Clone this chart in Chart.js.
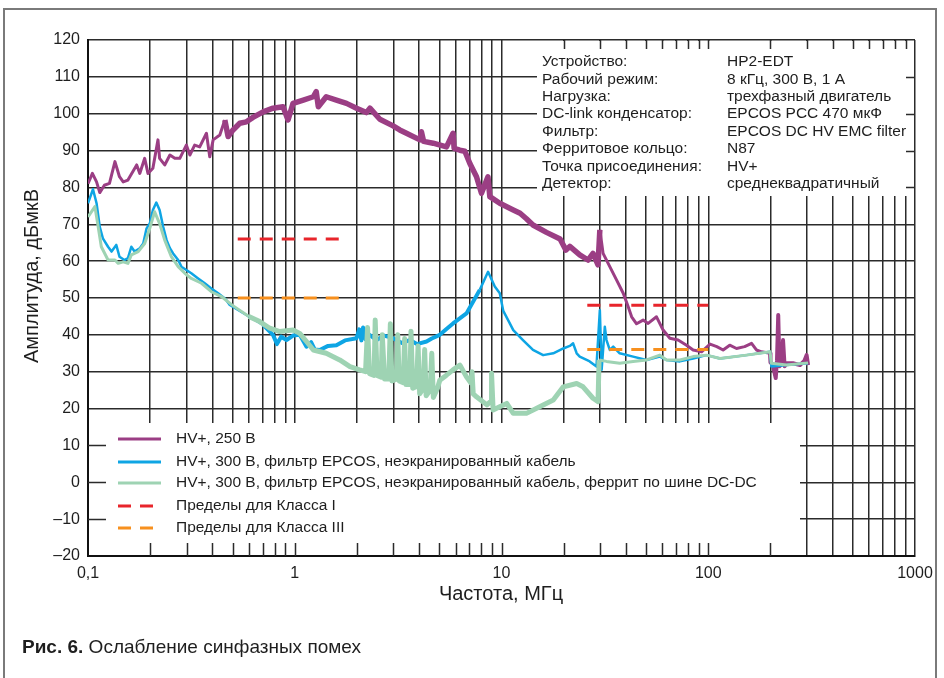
<!DOCTYPE html>
<html>
<head>
<meta charset="utf-8">
<script src="https://cdn.jsdelivr.net/npm/chart.js@4.4.0/dist/chart.umd.min.js"></script>
<style>
  body { margin: 0; background: #fff; }
  #wrap { width: 944px; height: 678px; }
</style>
</head>
<body>
<div id="wrap"><canvas id="emc" width="944" height="678"></canvas></div>
<script>
// HV+, 250 В
const purpleFreq = [0.1, 0.105, 0.11, 0.114, 0.12, 0.127, 0.135, 0.142, 0.148, 0.156, 0.172, 0.178, 0.188, 0.195, 0.206, 0.218, 0.222, 0.235, 0.249, 0.263, 0.278, 0.299, 0.311, 0.328, 0.347, 0.374, 0.388, 0.403, 0.434, 0.459, 0.476, 0.503, 0.542, 0.584, 0.628, 0.703, 0.785, 0.878, 0.928, 0.981, 1.1, 1.23, 1.27, 1.3, 1.42, 1.59, 1.78, 1.99, 2.22, 2.31, 2.58, 2.99, 3.22, 3.47, 4.03, 4.1, 4.2, 4.67, 5.42, 5.83, 5.9, 6.29, 6.65, 7.03, 7.57, 8.0, 8.6, 8.78, 9.81, 11.4, 12.3, 13.2, 14.2, 16.5, 19.2, 20.5, 21.4, 23.9, 26.2, 27.7, 29.3, 29.9, 31.0, 33.4, 36.0, 38.8, 41.0, 42.6, 45.0, 48.4, 51.2, 56.2, 60.5, 65.2, 71.5, 78.5, 84.5, 92.8, 102, 110, 118, 127, 137, 150, 162, 171, 181, 199, 200, 205, 212, 215, 218, 221, 226, 230, 234, 240, 257, 278, 292, 299, 304];
const purpleLevel = [81, 83.8, 81.5, 78.6, 80.6, 81.1, 87, 82.9, 81.5, 82, 86.1, 83.8, 87.9, 83.8, 85.2, 92.9, 87.9, 86.1, 88.8, 87.9, 87.9, 91.5, 88.8, 91.5, 91, 94.7, 88.3, 92.9, 94.2, 98.3, 93.8, 95.6, 97.4, 97.8, 99, 100.5, 101.5, 101.9, 98.3, 102.8, 103.7, 104.6, 106, 101.9, 104.6, 103.7, 102.8, 101.5, 100.3, 101.5, 98.5, 96.7, 95.6, 94.7, 92.9, 95.1, 92.5, 92, 91, 94.7, 90.6, 90.1, 89.8, 86.5, 82.9, 78.4, 82.9, 77.5, 75.7, 73.9, 73, 71.5, 69.8, 67.8, 66, 63, 64, 61.7, 60.3, 62.1, 59, 68.5, 62.1, 58.5, 54.9, 51.3, 47.6, 44.9, 43, 44, 43.1, 44.9, 41.3, 39.1, 38.6, 37.2, 35.9, 35.4, 37.5, 36.8, 35.9, 37.2, 36.3, 36.8, 37.7, 35.9, 35.4, 35, 32.5, 32, 28.3, 33, 45.4, 31.5, 32, 38.6, 31.5, 32.3, 32.3, 31.8, 33, 34.5, 31.8];

// HV+, 300 В, фильтр EPCOS
const blueFreq = [0.1, 0.1057, 0.11, 0.114, 0.118, 0.125, 0.13, 0.137, 0.142, 0.15, 0.156, 0.162, 0.168, 0.178, 0.185, 0.192, 0.199, 0.206, 0.214, 0.222, 0.231, 0.24, 0.249, 0.258, 0.273, 0.283, 0.299, 0.316, 0.341, 0.367, 0.395, 0.426, 0.459, 0.485, 0.584, 0.703, 0.785, 0.82, 0.86, 0.912, 0.981, 1.057, 1.14, 1.2, 1.25, 1.32, 1.45, 1.59, 1.75, 1.99, 2.05, 2.1, 2.14, 2.2, 2.3, 2.49, 2.7, 2.99, 3.3, 3.6, 3.9, 4.34, 4.6, 5.03, 5.4, 5.83, 6.77, 7.85, 8.61, 9.28, 9.81, 10.2, 11.0, 11.4, 12.7, 14.2, 15.9, 17.8, 19.9, 21.4, 22.2, 23.1, 23.9, 25.8, 26.7, 28.8, 29.9, 30.5, 31.6, 32.2, 33.4, 34.7, 37.3, 43.3, 50.3, 58.3, 62.8, 72.9, 84.5, 98.1, 114, 153, 199, 202, 239, 304];
const blueLevel = [75.7, 79.5, 75.7, 69.3, 66.2, 63.9, 62.6, 64.4, 61.2, 60.3, 60.8, 63.9, 62.6, 63.5, 64.8, 68.9, 70.2, 73.9, 75.9, 73.9, 69.3, 65.7, 63.5, 62.1, 60.3, 58.5, 57.6, 56.7, 55.3, 54, 52.6, 51.3, 49.9, 48.1, 45.4, 42.7, 40, 37.5, 39.5, 38.6, 39.8, 40, 36.8, 38, 36, 35.9, 37, 37.2, 38.5, 39.1, 41.5, 38.5, 42, 38.8, 40, 38.6, 39.8, 39.1, 37.8, 38.6, 37.5, 38.2, 39, 40, 41.5, 43.1, 45.8, 52.2, 57.1, 53.1, 51.3, 46.5, 43, 41.3, 38.6, 35.9, 34.5, 35, 36.3, 37, 37.7, 35, 34.1, 33.2, 32.8, 31.4, 46.7, 30.5, 42.2, 38.6, 35.9, 36.8, 35, 34.1, 33.2, 34.1, 33.2, 32.8, 33.6, 34.5, 33.6, 34.5, 35.4, 31.4, 31.8, 32.3];

// HV+, 300 В, фильтр EPCOS, феррит по шине DC-DC
const greenFreq = [0.1, 0.108, 0.112, 0.116, 0.125, 0.135, 0.14, 0.148, 0.156, 0.162, 0.175, 0.188, 0.199, 0.21, 0.222, 0.235, 0.253, 0.273, 0.294, 0.316, 0.354, 0.395, 0.442, 0.5, 0.6, 0.677, 0.757, 0.846, 0.981, 1.057, 1.14, 1.23, 1.42, 1.65, 1.85, 2.06, 2.2, 2.25, 2.3, 2.42, 2.45, 2.5, 2.62, 2.65, 2.72, 2.85, 2.9, 2.95, 3.1, 3.15, 3.2, 3.35, 3.4, 3.45, 3.6, 3.65, 3.72, 3.88, 3.95, 4.02, 4.18, 4.25, 4.32, 4.52, 4.6, 4.68, 4.9, 5.03, 5.4, 5.83, 6.29, 6.77, 7.1, 7.2, 7.3, 7.57, 8.5, 8.9, 8.95, 9.11, 9.8, 10.6, 11.4, 13.2, 15.3, 17.8, 19.9, 23.1, 24.8, 27.7, 29.3, 29.65, 32.2, 37.3, 43.3, 50.3, 58.3, 62.8, 72.9, 84.5, 98.1, 114, 153, 199, 202, 239, 304];
const greenLevel = [72, 74.8, 69.3, 63.9, 60.3, 60.3, 59.4, 59.8, 59.4, 61.7, 62.6, 64.8, 68.9, 73.4, 70.2, 65.7, 61.2, 58.5, 56.7, 55.3, 54, 51.7, 50.4, 48, 45, 43.6, 41.8, 40.9, 41.3, 40.4, 38.2, 35.9, 35, 33.2, 31.4, 30.5, 30, 42, 29.5, 29, 44, 29, 28.5, 40, 28, 28, 43, 27.5, 28, 40, 27.5, 27, 39, 26.5, 26.5, 41, 25.5, 26, 37, 24, 25.5, 36, 23.5, 25, 35, 23, 25.5, 27.7, 29, 30.5, 31.8, 28.6, 27, 30, 24, 23.2, 21, 22, 29.6, 19.6, 20.5, 21.4, 18.7, 18.7, 20.5, 22.3, 25.9, 26.8, 25.9, 22.8, 21.9, 33.2, 32.8, 32.3, 32.8, 33.2, 34.5, 33.2, 33.2, 34.1, 34.5, 33.6, 34.5, 35.4, 32.3, 31.8, 32.4];

// limit lines: band start, band end, level
const classIStart = [0.53, 26];
const classIEnd = [1.8, 100];
const classILevel = [66, 48];
const classIIIStart = [0.53, 26];
const classIIIEnd = [1.8, 100];
const classIIILevel = [50, 36];

const decades = [0.1, 1, 10, 100, 1000];
const decadeLabels = ['0,1', '1', '10', '100', '1000'];
const yTickValues = [-20, -10, 0, 10, 20, 30, 40, 50, 60, 70, 80, 90, 100, 110, 120];

const infoLabels = ['Устройство:', 'Рабочий режим:', 'Нагрузка:', 'DC-link конденсатор:', 'Фильтр:', 'Ферритовое кольцо:', 'Точка присоединения:', 'Детектор:'];
const infoValues = ['HP2-EDT', '8 кГц, 300 В, 1 А', 'трехфазный двигатель', 'EPCOS PCC 470 мкФ', 'EPCOS DC HV EMC filter', 'N87', 'HV+', 'среднеквадратичный'];

const SANS = "'Liberation Sans', Arial, sans-serif";
const GRID = '#2b2b2b';
const TEXT = '#1e1e1e';

// every grid line of the log axis: 1..9 x each decade
const xGrid = [];
decades.slice(0, -1).forEach(d => { for (let k = 1; k < 10; k++) xGrid.push(+(d * k).toPrecision(3)); });
xGrid.push(1000);

const pts = (fs, vs) => fs.map((f, i) => ({ x: f, y: vs[i] }));
const limitPts = (s, e, v) => {
    const out = [];
    s.forEach((f, i) => {
        if (i > 0) out.push({ x: Math.sqrt(e[i - 1] * f), y: null });
        out.push({ x: f, y: v[i] }, { x: e[i], y: v[i] });
    });
    return out;
};
// thicker stroke where the trace is a noisy band: [from, to, width]
const widthIn = ranges => ctx => {
    const r = ranges.find(([lo, hi]) => ctx.p0.parsed.x >= lo && ctx.p1.parsed.x <= hi);
    return r ? r[2] : undefined;
};

const infoBox = { left: 537, bottom: 196 };
const legendBox = { right: 800, top: 423 };

const decor = {
    id: 'decor',
    beforeDraw(chart) {
        const c = chart.ctx;
        c.save();
        c.fillStyle = '#fff';
        c.fillRect(0, 0, chart.width, chart.height);
        c.restore();
    },
    beforeDatasetsDraw(chart) {
        const { ctx: c, chartArea: a, scales: { x, y } } = chart;
        c.save();
        c.fillStyle = '#fff';
        c.fillRect(infoBox.left, a.top + 1, a.right - 1 - infoBox.left, infoBox.bottom - a.top - 1);
        c.fillRect(a.left + 1, legendBox.top, legendBox.right - a.left - 1, a.bottom - 1 - legendBox.top);
        c.strokeStyle = GRID;
        c.lineWidth = 1.5;
        c.beginPath();
        xGrid.forEach(v => {
            const px = Math.round(x.getPixelForValue(v)) + 0.5;
            if (px > infoBox.left && px < a.right - 2) { c.moveTo(px, a.top); c.lineTo(px, a.top + 9); }
            if (px > a.left + 2 && px < legendBox.right) { c.moveTo(px, a.bottom); c.lineTo(px, a.bottom - 13); }
        });
        yTickValues.forEach(v => {
            const py = Math.round(y.getPixelForValue(v)) + 0.5;
            if (py > a.top + 2 && py < infoBox.bottom) { c.moveTo(a.right, py); c.lineTo(a.right - 9, py); }
            if (py > legendBox.top && py < a.bottom - 2) { c.moveTo(a.left, py); c.lineTo(a.left + 18, py); }
        });
        c.stroke();
        c.restore();
    },
    afterDraw(chart) {
        const c = chart.ctx;
        const sets = chart.data.datasets;
        c.save();
        // outer frame
        c.strokeStyle = '#7a7a7a';
        c.lineWidth = 2;
        c.strokeRect(4, 9, 932, 700);

        c.fillStyle = TEXT;
        c.textBaseline = 'middle';
        c.font = '15.5px ' + SANS;
        infoLabels.forEach((t, i) => {
            c.fillText(t, 542, 62 + i * 17.4);
            c.fillText(infoValues[i], 727, 62 + i * 17.4);
        });

        // legend
        const rows = [439, 462, 483, 506, 528];
        sets.forEach((ds, i) => {
            c.save();
            c.strokeStyle = ds.borderColor;
            c.lineWidth = 3;
            c.setLineDash(ds.borderDash || []);
            c.beginPath();
            c.moveTo(118, rows[i]);
            c.lineTo(161, rows[i]);
            c.stroke();
            c.restore();
            c.fillText(ds.label, 176, rows[i]);
        });

        // axis titles and caption
        c.font = '20px ' + SANS;
        c.textAlign = 'center';
        c.fillText('Частота, МГц', 501, 594);
        c.save();
        c.translate(32, 276);
        c.rotate(-Math.PI / 2);
        c.fillText('Амплитуда, дБмкВ', 0, 0);
        c.restore();
        c.textAlign = 'left';
        c.font = 'bold 19px ' + SANS;
        c.fillText('Рис. 6.', 22, 648);
        const w = c.measureText('Рис. 6. ').width;
        c.font = '19px ' + SANS;
        c.fillText('Ослабление синфазных помех', 22 + w, 648);
        c.restore();
    }
};

new Chart(document.getElementById('emc').getContext('2d'), {
    type: 'line',
    data: {
        datasets: [
            {
                label: 'HV+, 250 В',
                data: pts(purpleFreq, purpleLevel),
                borderColor: '#9b3e84',
                borderWidth: 3,
                order: 3,
                segment: { borderWidth: widthIn([[0.45, 30, 5.5], [199, 305, 4]]) },
            },
            {
                label: 'HV+, 300 В, фильтр EPCOS, неэкранированный кабель',
                data: pts(blueFreq, blueLevel),
                borderColor: '#0ea5e4',
                borderWidth: 2.5,
                order: 2,
                segment: { borderWidth: widthIn([[0.7, 8, 4]]) },
            },
            {
                label: 'HV+, 300 В, фильтр EPCOS, неэкранированный кабель, феррит по шине DC-DC',
                data: pts(greenFreq, greenLevel),
                borderColor: '#9ed3b3',
                borderWidth: 3,
                order: 1,
                segment: { borderWidth: widthIn([[0.6, 30, 5]]) },
            },
            {
                label: 'Пределы для Класса I',
                data: limitPts(classIStart, classIEnd, classILevel),
                borderColor: '#e8252b',
                borderWidth: 3,
                borderDash: [13, 9],
                spanGaps: false,
                order: 0,
            },
            {
                label: 'Пределы для Класса III',
                data: limitPts(classIIIStart, classIIIEnd, classIIILevel),
                borderColor: '#f7901e',
                borderWidth: 3,
                borderDash: [13, 9],
                spanGaps: false,
                order: 0,
            },
        ],
    },
    options: {
        responsive: false,
        animation: false,
        elements: { point: { radius: 0 }, line: { tension: 0, borderJoinStyle: 'round' } },
        layout: { padding: { left: 28, right: 29, top: 40, bottom: 82 } },
        plugins: { legend: { display: false }, tooltip: { enabled: false } },
        scales: {
            x: {
                type: 'logarithmic',
                min: 0.1,
                max: 1000,
                afterBuildTicks: s => { s.ticks = xGrid.map(v => ({ value: v })); },
                afterFit: s => { s.height = 40; },
                grid: { color: GRID, lineWidth: 1.5, drawTicks: false },
                border: { color: '#111', width: 2 },
                ticks: {
                    autoSkip: false,
                    maxRotation: 0,
                    padding: 8,
                    color: TEXT,
                    font: { family: SANS, size: 16 },
                    callback: v => {
                        const i = decades.findIndex(d => Math.abs(v - d) / d < 1e-6);
                        return i < 0 ? '' : decadeLabels[i];
                    },
                },
            },
            y: {
                min: -20,
                max: 120,
                afterBuildTicks: s => { s.ticks = yTickValues.map(v => ({ value: v })); },
                afterFit: s => { s.width = 60; },
                grid: { color: GRID, lineWidth: 1.5, drawTicks: false },
                border: { color: '#111', width: 2 },
                ticks: {
                    padding: 8,
                    color: TEXT,
                    font: { family: SANS, size: 16 },
                    callback: v => (v < 0 ? '\u2013' + Math.abs(v) : String(v)),
                },
            },
        },
    },
    plugins: [decor],
});
</script>
</body>
</html>
